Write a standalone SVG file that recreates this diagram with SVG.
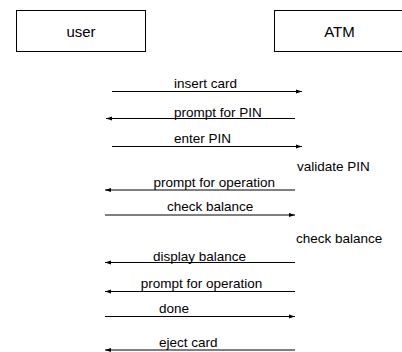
<svg xmlns="http://www.w3.org/2000/svg" width="402" height="352" viewBox="0 0 402 352">
<style>
.box{fill:#fff;stroke:#000;stroke-width:1}
.nl{font-family:"Liberation Sans",Arial,sans-serif;font-size:15px;fill:#000;text-anchor:middle}
.ml{font-family:"Liberation Sans",Arial,sans-serif;font-size:13.5px;fill:#000}
.msg{stroke:#000;stroke-width:1;fill:none;marker-end:url(#ah)}
</style>
<defs>
<marker id="ah" markerUnits="userSpaceOnUse" markerWidth="7" markerHeight="6" refX="6" refY="3" orient="auto">
<path d="M0,1 L6,3 L0,5 Z" fill="#000"/>
</marker>
</defs>
<rect width="402" height="352" fill="#fff"/>
<g id="user">
<rect class="box" x="16.5" y="10.5" width="129" height="41"/>
<text class="nl" x="81" y="37">user</text>
</g>
<g id="atm">
<rect class="box" x="274.5" y="10.5" width="130" height="41"/>
<text class="nl" x="339.5" y="37">ATM</text>
</g>
<g id="connectors">
<path class="msg" d="M112,91.5 H302"/>
<path class="msg" d="M295,118.5 H106"/>
<path class="msg" d="M112,146.5 H302"/>
<path class="msg" d="M295,190 H105"/>
<path class="msg" d="M105,215 H295"/>
<path class="msg" d="M295,262.5 H105"/>
<path class="msg" d="M295,291.5 H105"/>
<path class="msg" d="M105,316.5 H295"/>
<path class="msg" d="M295,350 H105"/>
</g>
<g id="labels">
<text class="ml" x="174" y="87.5">insert card</text>
<text class="ml" x="174" y="116.5">prompt for PIN</text>
<text class="ml" x="174" y="142.5">enter PIN</text>
<text class="ml" x="297" y="170.5">validate PIN</text>
<text class="ml" x="153.5" y="186.5">prompt for operation</text>
<text class="ml" x="167" y="211">check balance</text>
<text class="ml" x="296" y="243">check balance</text>
<text class="ml" x="153" y="260.5">display balance</text>
<text class="ml" x="140.7" y="287.5">prompt for operation</text>
<text class="ml" x="159" y="312.5">done</text>
<text class="ml" x="159" y="347">eject card</text>
</g>
</svg>
